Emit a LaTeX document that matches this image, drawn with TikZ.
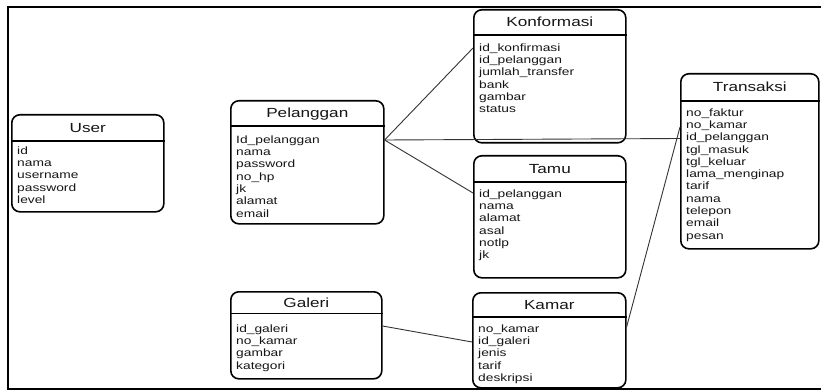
\documentclass[tikz,border=0pt]{standalone}
\usepackage{fontspec}
\setmainfont[FakeStretch=1.3]{Liberation Sans}
\usetikzlibrary{calc}
\definecolor{txt}{HTML}{161616}
\definecolor{con}{HTML}{333333}
\tikzset{
  entbox/.style={draw=black, line width=1.6pt, rounded corners=8pt, inner sep=0pt, anchor=north west, fill=white},
  hline/.style={draw=black, line width=1.3pt},
  ttl/.style={anchor=base, inner sep=0pt, text=txt, font=\fontsize{13.2}{16}\selectfont},
  attr/.style={anchor=north west, inner sep=0pt, align=left, text=txt, font=\fontsize{10.6}{12.3}\selectfont},
  conn/.style={draw=con, line width=0.9pt},
  frame/.style={draw=black, line width=2pt}
}
\newcommand{\fs}{\rule{0pt}{9pt}}
\begin{document}
\begin{tikzpicture}[x=1pt,y=-1pt]
\useasboundingbox (0,0) rectangle (821,390);
\fill[white] (0,0) rectangle (821,390);
% frame
\coordinate (f1) at (822,6.7);
\coordinate (f2) at (8.3,6.7);
\coordinate (f3) at (8.3,388.5);
\coordinate (f4) at (822,388.5);
\draw[frame] (f1) -- (f2) -- (f3) -- (f4);

% User
\node[entbox, minimum width=152pt, minimum height=97pt] (user) at (11,114) {};
\draw[hline] ([yshift=-27pt]user.north west) -- ([yshift=-27pt]user.north east);
\node[ttl] (user-t) at ([yshift=-18.3pt]user.north) {User};
\node[attr] (user-a) at ([xshift=6pt,yshift=-31pt]user.north west) {\fs id\\nama\\username\\password\\level};

% Pelanggan
\node[entbox, minimum width=153pt, minimum height=123pt] (pel) at (230,100) {};
\draw[hline] ([yshift=-26pt]pel.north west) -- ([yshift=-26pt]pel.north east);
\node[ttl] (pel-t) at ([yshift=-17.8pt]pel.north) {Pelanggan};
\node[attr] (pel-a) at ([xshift=6pt,yshift=-34pt]pel.north west) {\fs Id\_pelanggan\\nama\\password\\no\_hp\\jk\\alamat\\email};

% Konformasi
\node[entbox, minimum width=152pt, minimum height=133pt] (konf) at (473,9) {};
\draw[hline] ([yshift=-26pt]konf.north west) -- ([yshift=-26pt]konf.north east);
\node[ttl] (konf-t) at ([yshift=-17.8pt]konf.north) {Konformasi};
\node[attr] (konf-a) at ([xshift=6pt,yshift=-33pt]konf.north west) {\fs id\_konfirmasi\\id\_pelanggan\\jumlah\_transfer\\bank\\gambar\\status};

% Tamu
\node[entbox, minimum width=152pt, minimum height=122pt] (tamu) at (473,155) {};
\draw[hline] ([yshift=-27pt]tamu.north west) -- ([yshift=-27pt]tamu.north east);
\node[ttl] (tamu-t) at ([yshift=-18.3pt]tamu.north) {Tamu};
\node[attr] (tamu-a) at ([xshift=6pt,yshift=-33pt]tamu.north west) {\fs id\_pelanggan\\nama\\alamat\\asal\\notlp\\jk};

% Transaksi
\node[entbox, minimum width=138pt, minimum height=175pt] (trans) at (680,73) {};
\draw[hline] ([yshift=-28pt]trans.north west) -- ([yshift=-28pt]trans.north east);
\node[ttl] (trans-t) at ([yshift=-18.8pt]trans.north) {Transaksi};
\node[attr] (trans-a) at ([xshift=6pt,yshift=-34pt]trans.north west) {\fs no\_faktur\\no\_kamar\\id\_pelanggan\\tgl\_masuk\\tgl\_keluar\\lama\_menginap\\tarif\\nama\\telepon\\email\\pesan};

% Galeri
\node[entbox, minimum width=151pt, minimum height=87pt] (gal) at (230,291) {};
\draw[hline] ([yshift=-22.5pt]gal.north west) -- ([yshift=-22.5pt]gal.north east);
\node[ttl] (gal-t) at ([yshift=-16pt]gal.north) {Galeri};
\node[attr] (gal-a) at ([xshift=6pt,yshift=-32pt]gal.north west) {\fs id\_galeri\\no\_kamar\\gambar\\kategori};

% Kamar
\node[entbox, minimum width=153pt, minimum height=95pt] (kamar) at (472,292) {};
\draw[hline] ([yshift=-25pt]kamar.north west) -- ([yshift=-25pt]kamar.north east);
\node[ttl] (kamar-t) at ([yshift=-17.3pt]kamar.north) {Kamar};
\node[attr] (kamar-a) at ([xshift=6pt,yshift=-31pt]kamar.north west) {\fs no\_kamar\\id\_galeri\\jenis\\tarif\\deskripsi};

% connectors
\draw[conn] ([yshift=-40pt]pel.north east) -- ([yshift=-39pt]konf.north west);
\draw[conn] ([yshift=-40pt]pel.north east) -- ([yshift=-65.5pt]trans.north west);
\draw[conn] ([yshift=-40pt]pel.north east) -- ([yshift=-38pt]tamu.north west);
\draw[conn] ([yshift=-35pt]gal.north east) -- ([yshift=-50pt]kamar.north west);
\draw[conn] ([yshift=-35pt]kamar.north east) -- ([yshift=-54pt]trans.north west);
\end{tikzpicture}
\end{document}
